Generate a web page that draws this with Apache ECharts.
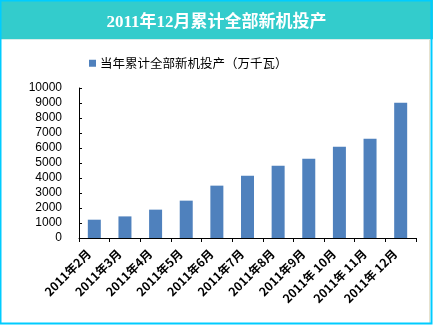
<!DOCTYPE html>
<html>
<head>
<meta charset="utf-8">
<script src="https://cdn.jsdelivr.net/npm/echarts@6/dist/echarts.min.js"></script>
<style>
  html, body { margin: 0; padding: 0; background: #ffffff; }
  #chart { width: 433px; height: 325px; }
</style>
</head>
<body>
<div id="chart"></div>
<script>
// Monthly cumulative new capacity put into operation, 2011 (10MW units)
const categories = ['2011年2月', '2011年3月', '2011年4月', '2011年5月', '2011年6月', '2011年7月',
  '2011年8月', '2011年9月', '2011年 10月', '2011年 11月', '2011年 12月'];
const capacity = [1220, 1440, 1890, 2490, 3490, 4150, 4820, 5290, 6090, 6620, 9020];
const seriesName = '当年累计全部新机投产（万千瓦）';
const chartTitle = '2011年12月累计全部新机投产';
const yTicks = { min: 0, max: 10000, interval: 1000 };

const chart = echarts.init(document.getElementById('chart'), null, { renderer: 'canvas' });

chart.setOption({
  backgroundColor: '#ffffff',
  animation: false,
  graphic: [
    // header band
    { type: 'rect', z: 0, shape: { x: 0, y: 0, width: 433, height: 39 }, style: { fill: '#33CCCC' } },
    { type: 'line', z: 1, shape: { x1: 0, y1: 39.5, x2: 433, y2: 39.5 }, style: { stroke: '#D8EDEA', lineWidth: 1 } },
    // frame
    { type: 'rect', z: 5, shape: { x: 0.5, y: 0.5, width: 431, height: 323 }, style: { fill: 'none', stroke: '#00CCFF', lineWidth: 2 } },
    { type: 'line', z: 4, shape: { x1: 429.5, y1: 40, x2: 429.5, y2: 323 }, style: { stroke: '#E6E2CF', lineWidth: 1 } }
  ],
  title: {
    text: chartTitle,
    left: 'center',
    top: 9,
    textStyle: { color: '#ffffff', fontSize: 17, fontWeight: 'bold', fontFamily: 'Liberation Serif, Noto Sans CJK SC' }
  },
  legend: {
    data: [seriesName],
    left: 84,
    top: 52,
    itemWidth: 7,
    itemHeight: 7,
    itemGap: 4,
    icon: 'rect',
    textStyle: { color: '#000000', fontSize: 12.5, fontFamily: 'Noto Sans CJK SC', padding: [0, 0, 0, -1] }
  },
  grid: { left: 79, right: 17, top: 88, bottom: 87, containLabel: false },
  xAxis: {
    type: 'category',
    data: categories,
    axisLine: { lineStyle: { color: '#000000', width: 1 } },
    axisTick: { show: true, length: 4, inside: false, lineStyle: { color: '#000000' } },
    axisLabel: {
      rotate: 45,
      interval: 0,
      margin: 8,
      padding: [0, 8, 0, 0],
      color: '#000000',
      fontSize: 12,
      fontWeight: 'bold',
      fontFamily: 'Noto Sans CJK SC'
    }
  },
  yAxis: {
    type: 'value',
    min: yTicks.min,
    max: yTicks.max,
    interval: yTicks.interval,
    axisLine: { show: true, lineStyle: { color: '#000000', width: 1 } },
    axisTick: { show: true, inside: true, length: 3, lineStyle: { color: '#000000' } },
    splitLine: { show: false },
    axisLabel: {
      color: '#000000',
      fontSize: 12,
      margin: 17,
      fontFamily: 'Liberation Sans, Arial',
      formatter: v => String(v)
    }
  },
  series: [{
    name: seriesName,
    type: 'bar',
    data: capacity,
    barWidth: 13,
    itemStyle: { color: '#4F81BD' }
  }]
});
</script>
</body>
</html>
